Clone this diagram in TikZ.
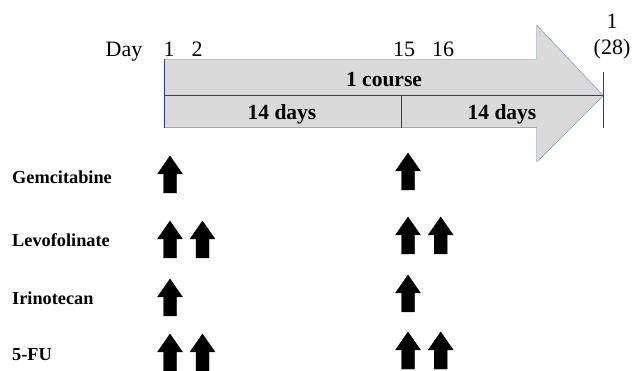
\documentclass[tikz,border=0pt]{standalone}
\usepackage{fontspec}
\setmainfont{Liberation Serif}
\usetikzlibrary{calc}

\definecolor{arrowfill}{RGB}{217,217,217}
\definecolor{arrowedge}{RGB}{91,141,205}
\definecolor{tickline}{RGB}{47,62,125}

\begin{document}
\begin{tikzpicture}[x=1pt,y=-1pt,
    daytext/.style={anchor=base,inner sep=0pt,font=\fontsize{22}{26}\selectfont},
    spantext/.style={anchor=base,inner sep=0pt,font=\fontsize{21.5}{25}\selectfont\bfseries},
    drugtext/.style={anchor=base west,inner sep=0pt,font=\fontsize{18.3}{22}\selectfont\bfseries},
    dose/.style={fill=black,draw=black,line width=0.4pt}]
            \useasboundingbox (0,0) rectangle (632,371);

            % Define the corners of the course arrow
            \def\xl{164}     % left end of the shaft
            \def\xh{536.7}   % start of the head
            \def\xt{603.3}   % tip of the head
            \def\xm{401}     % day 15
            \coordinate (A0) at (\xl, 59.3);
            \coordinate (A1) at (\xh, 59.3);
            \coordinate (A2) at (\xh, 25);
            \coordinate (T) at (\xt, 95.7);
            \coordinate (A3) at (\xh, 162);
            \coordinate (A4) at (\xh, 127.7);
            \coordinate (A5) at (\xl, 127.7);
            \coordinate (M0) at (\xl, 95.7);
            \coordinate (D0) at (\xm, 95.7);
            \coordinate (D1) at (\xm, 127.7);
            \coordinate (E0) at (\xt, 72);
            \coordinate (E1) at (\xt, 128);

            % Draw the course arrow
            \draw[fill=arrowfill,draw=arrowedge] (A0) -- (A1) -- (A2) -- (T) -- (A3) -- (A4) -- (A5) -- cycle;
            \draw[tickline] (M0) -- (T);
            \draw[tickline] (A0) -- (A5);
            \draw[tickline] (D0) -- (D1);
            \draw[tickline] (E0) -- (E1);

            % Day numbers
            \node[daytext] (day) at (124, 56.7) {Day};
            \node[daytext] (d1) at (169, 56.7) {1};
            \node[daytext] (d2) at (197, 56.7) {2};
            \node[daytext] (d15) at (404, 56.7) {15};
            \node[daytext] (d16) at (443, 56.7) {16};
            \node[daytext] (dnext) at (612, 29) {1};
            \node[daytext] (d28) at (612, 55) {(28)};

            % Span labels
            \node[spantext] (course) at (384, 87) {1 course};
            \node[spantext] (firsthalf) at (282, 120) {14 days};
            \node[spantext] (secondhalf) at (502, 120) {14 days};

            % Drug names
            \node[drugtext] (gem) at (12, 184) {Gemcitabine};
            \node[drugtext] (levo) at (12, 246.7) {Levofolinate};
            \node[drugtext] (iri) at (12, 305) {Irinotecan};
            \node[drugtext] (fu) at (12, 360) {5-FU};

            % Draw dose arrows (centre x / top y)
            \foreach \c/\t in {170/156, 408/153,
                               170/221, 202.5/221, 408/217, 440.7/217,
                               170/279, 408/275,
                               170/334, 202.5/334, 408/332, 440.7/332}
            {
                \draw[dose] (\c, \t) -- ++(12.5, 18) -- ++(-6, 0) -- ++(0, 19)
                    -- ++(-13, 0) -- ++(0, -19) -- ++(-6, 0) -- cycle;
            }

        \end{tikzpicture}
\end{document}
